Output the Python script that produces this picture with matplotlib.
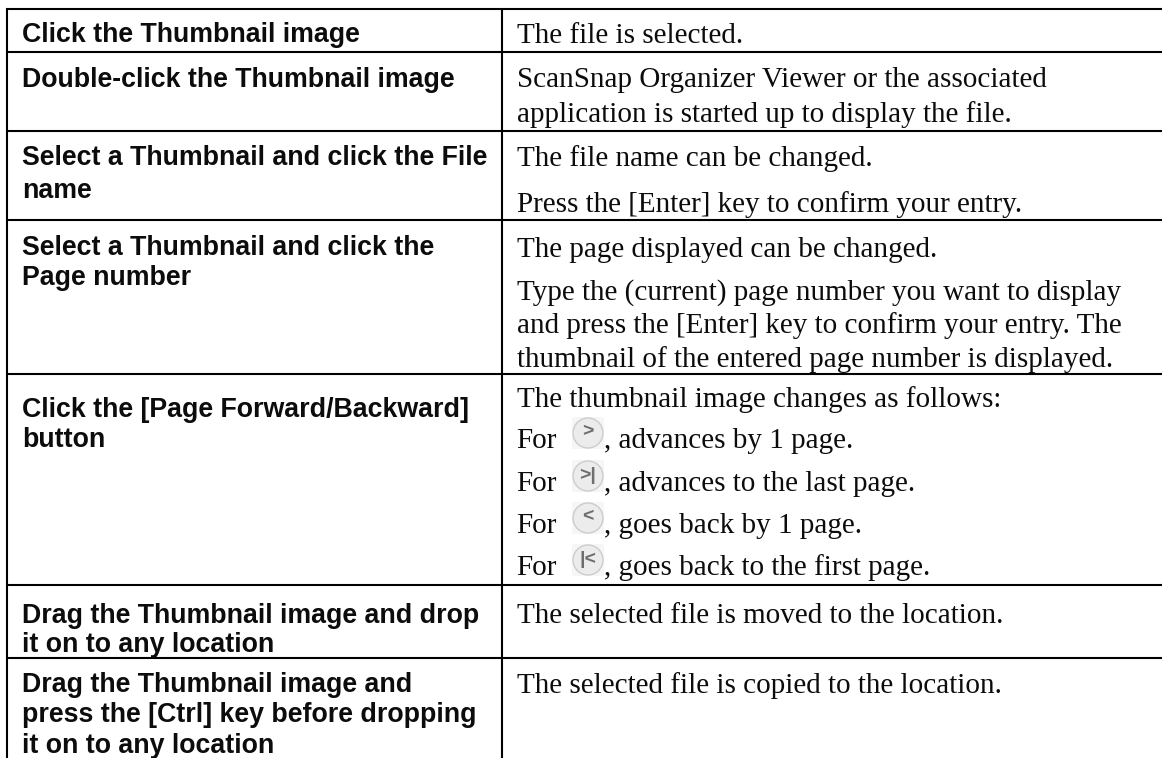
"""Table of thumbnail operations, drawn on a pixel-sized axes."""

import matplotlib.pyplot as plt
from matplotlib.patches import Circle, Rectangle

W, H = 1162, 758
INK = "#0c0c0c"

actions = [
    ["Click the Thumbnail image"],
    ["Double-click the Thumbnail image"],
    ["Select a Thumbnail and click the File", "name"],
    ["Select a Thumbnail and click the", "Page number"],
    ["Click the [Page Forward/Backward]", "button"],
    ["Drag the Thumbnail image and drop", "it on to any location"],
    ["Drag the Thumbnail image and", "press the [Ctrl] key before dropping", "it on to any location"],
]
results = [
    ["The file is selected."],
    ["ScanSnap Organizer Viewer or the associated",
     "application is started up to display the file."],
    ["The file name can be changed.",
     "Press the [Enter] key to confirm your entry."],
    ["The page displayed can be changed.",
     "Type the (current) page number you want to display",
     "and press the [Enter] key to confirm your entry. The",
     "thumbnail of the entered page number is displayed."],
    ["The thumbnail image changes as follows:"],
    ["The selected file is moved to the location."],
    ["The selected file is copied to the location."],
]
button_tails = [
    ", advances by 1 page.",
    ", advances to the last page.",
    ", goes back by 1 page.",
    ", goes back to the first page.",
]
icons = [">", ">|", "<", "|<"]

row_lines = [9, 52, 131, 220, 374, 585, 658]
action_y = [[42], [87], [165, 198], [255, 285], [417, 447], [623, 652], [692, 722, 753]]
result_y = [[43], [87, 122], [166, 212], [257, 300, 333, 367], [407], [623], [693]]
button_y = [448, 491, 533, 575]
icon_y = [433, 476, 518, 560]

fig = plt.figure(figsize=(W / 100, H / 100), dpi=100)
ax = fig.add_axes([0, 0, 1, 1])
ax.set_xlim(0, W)
ax.set_ylim(H, 0)
ax.axis("off")

for y in row_lines:
    ax.plot([6, W], [y, y], color="black", lw=1.5, solid_capstyle="butt")
ax.plot([6.5, 6.5], [8, H], color="black", lw=1.5, solid_capstyle="butt")
ax.plot([502, 502], [8, H], color="black", lw=1.5, solid_capstyle="butt")

for lines, ys in zip(actions, action_y):
    for line, y in zip(lines, ys):
        ax.text(22, y, line, family="Liberation Sans", fontweight="bold", fontsize=19.25,
                va="baseline", ha="left", color=INK)

for lines, ys in zip(results, result_y):
    for line, y in zip(lines, ys):
        ax.text(517, y, line, family="Liberation Serif", fontsize=21,
                va="baseline", ha="left", color=INK)

for tail, mark, y, iy in zip(button_tails, icons, button_y, icon_y):
    ax.text(516.5, y, "For", family="Liberation Serif", fontsize=21, va="baseline", color=INK)
    ax.text(604, y, tail, family="Liberation Serif", fontsize=21, va="baseline", color=INK)
    ax.add_patch(Rectangle((572, iy - 16), 32, 32, color="#f6f6f6", lw=0))
    ax.add_patch(Circle((588, iy), 15, fc="#ececec", ec="#cccccc", lw=1))
    ax.text(588, iy - 1, mark, family="Liberation Sans", fontweight="bold", fontsize=14,
            ha="center", va="center", color="#6e6e6e")

fig.savefig("out.png", dpi=100, facecolor="white")
